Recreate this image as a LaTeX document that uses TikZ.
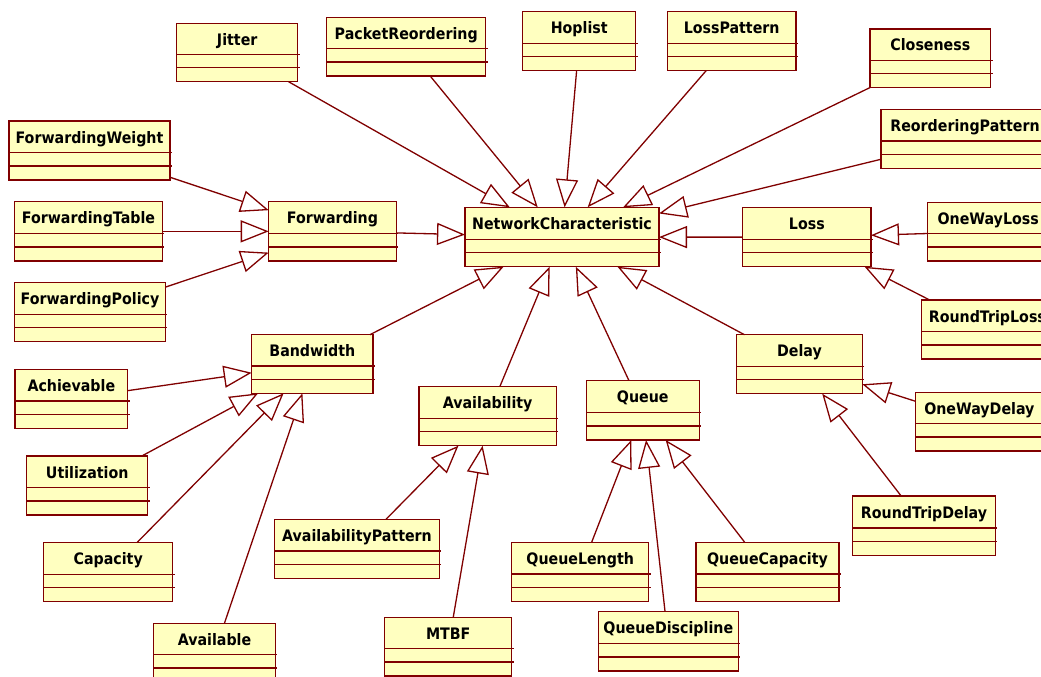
\documentclass[tikz,border=0pt]{standalone}
\usepackage{fontspec}
\newfontfamily\clsfont{DejaVu Sans}[FakeStretch=0.9]
\usetikzlibrary{arrows.meta}
\definecolor{umlborder}{RGB}{128,0,0}
\definecolor{umlfill}{RGB}{255,255,192}
\tikzset{
  clsbox/.style={draw=umlborder, fill=umlfill, line width=1.3pt, rectangle,
    inner sep=0pt, outer sep=0pt},
  clsname/.style={anchor=base, inner sep=0pt,
    font=\fontsize{15.8}{18}\selectfont\clsfont\bfseries},
  clsline/.style={draw=umlborder, line width=1.3pt},
  gen/.style={draw=umlborder, line width=1.3pt,
    -{Triangle[open, length=28pt, width=22pt]}},
}
% class box: name, left, top, right, bottom, title (pixel-style coordinates, y downwards)
\newcommand\umlclass[6]{%
  \node[clsbox, minimum width={#4-#2}, minimum height={#5-#3}] (#1) at ({(#2+#4)/2},{(#3+#5)/2}) {};
  \node[clsname] (#1-name) at ({(#2+#4)/2},{#3+22}) {#6};
  \draw[clsline] ([yshift=27.3pt]#1.south west) -- ([xshift=2pt,yshift=27.3pt]#1.south east);
  \draw[clsline] ([yshift=14pt]#1.south west) -- ([xshift=2pt,yshift=14pt]#1.south east);
}
\begin{document}
\begin{tikzpicture}[x=1pt, y=-1pt]
\useasboundingbox (0,0) rectangle (1041,677);
\fill[white] (0,0) rectangle (1041,677);
\clip (0,0) rectangle (1041,677);

\umlclass{jit}{176.7}{23.3}{297.7}{81.7}{Jitter}
\umlclass{prd}{326.7}{17.3}{485.7}{76}{PacketReordering}
\umlclass{hop}{522.7}{11.7}{635.7}{70.7}{Hoplist}
\umlclass{lpat}{667.3}{11.7}{796}{70.7}{LossPattern}
\umlclass{clo}{870}{29}{990.7}{87.7}{Closeness}
\umlclass{rpat}{881}{109.3}{1049}{168.3}{ReorderingPattern}
\umlclass{fwt}{9}{121}{170}{180}{ForwardingWeight}
\umlclass{ftab}{14.7}{201.7}{162.3}{261}{ForwardingTable}
\umlclass{fpol}{14.7}{282.7}{165.3}{341.7}{ForwardingPolicy}
\umlclass{fwd}{268.7}{201.7}{396.3}{261}{Forwarding}
\umlclass{nc}{465}{207.3}{659}{266.7}{NetworkCharacteristic}
\umlclass{loss}{742.7}{207.7}{871}{266.7}{Loss}
\umlclass{owl}{927.3}{202.3}{1049}{261}{OneWayLoss}
\umlclass{rtl}{921.7}{300}{1053}{359}{RoundTripLoss}
\umlclass{bw}{251.7}{334.7}{373}{393.3}{Bandwidth}
\umlclass{dly}{736.7}{334.7}{862.3}{393.7}{Delay}
\umlclass{ach}{15}{369.3}{127.7}{428.3}{Achievable}
\umlclass{avl}{419}{386.3}{556.3}{445.7}{Availability}
\umlclass{que}{586.3}{380.7}{699.3}{440}{Queue}
\umlclass{owd}{915.7}{392.3}{1043}{451}{OneWayDelay}
\umlclass{util}{26.7}{456}{147.7}{515}{Utilization}
\umlclass{rtd}{852.7}{496}{995.3}{555.3}{RoundTripDelay}
\umlclass{apat}{274.7}{519.3}{439.3}{578.3}{AvailabilityPattern}
\umlclass{capa}{43.7}{542.3}{172.7}{601.7}{Capacity}
\umlclass{qlen}{511.7}{542.3}{648.7}{601.3}{QueueLength}
\umlclass{qcap}{696}{542.3}{839}{601.3}{QueueCapacity}
\umlclass{qdis}{598.3}{611.7}{738.3}{671}{QueueDiscipline}
\umlclass{mtbf}{384.7}{617.7}{511.7}{676}{MTBF}
\umlclass{avail}{153.7}{623.3}{275.3}{682}{Available}

% generalizations
\foreach \c in {jit,prd,hop,lpat,clo,rpat,loss,fwd,bw,avl,que,dly}
  \draw[gen] (\c) -- (nc);
\foreach \c in {fwt,ftab,fpol} \draw[gen] (\c) -- (fwd);
\foreach \c in {owl,rtl} \draw[gen] (\c) -- (loss);
\foreach \c in {owd,rtd} \draw[gen] (\c) -- (dly);
\foreach \c in {ach,util,capa,avail} \draw[gen] (\c) -- (bw);
\foreach \c in {apat,mtbf} \draw[gen] (\c) -- (avl);
\foreach \c in {qlen,qdis,qcap} \draw[gen] (\c) -- (que);
\end{tikzpicture}
\end{document}
